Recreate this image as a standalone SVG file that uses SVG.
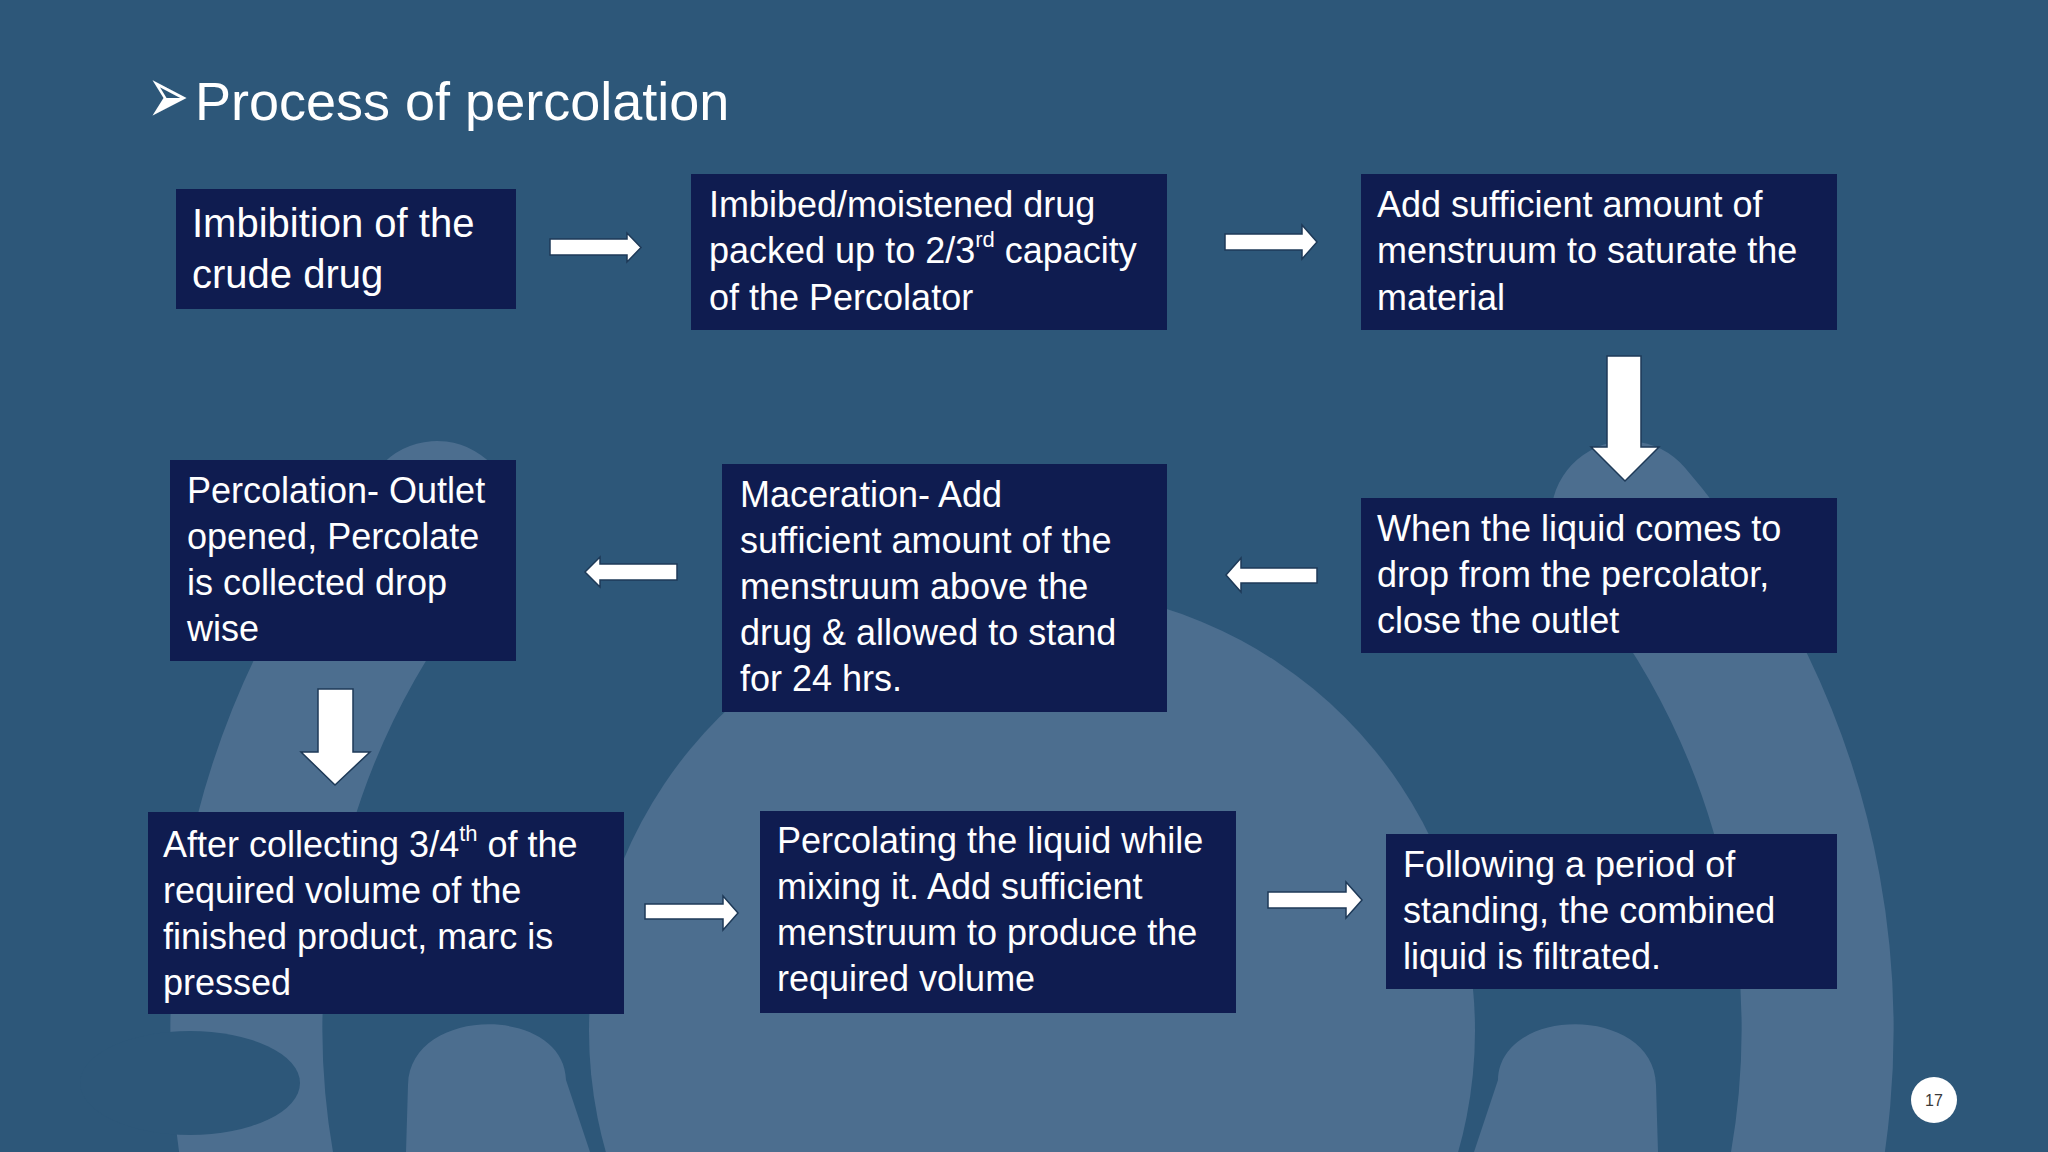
<svg xmlns="http://www.w3.org/2000/svg" width="2048" height="1152" viewBox="0 0 2048 1152">
<defs>
<style>
.bg{fill:#2D5779}
.lt{fill:#4C6E8F}
.box{fill:#0F1C50}
.t{font-family:"Liberation Sans",Arial,sans-serif;font-size:36px;fill:#FFFFFF}
.t1{font-family:"Liberation Sans",Arial,sans-serif;font-size:40px;fill:#FFFFFF}
.sup{font-size:22px}
.arr{fill:#FFFFFF;stroke:#1E3A58;stroke-width:1.5;stroke-linejoin:miter}
</style>
</defs>
<g id="background">
<rect class="bg" x="0" y="0" width="2048" height="1152"/>
<path d="M437 517 A785 785 0 0 0 294 1299" fill="none" stroke="#4C6E8F" stroke-width="152" stroke-linecap="round"/>
<path d="M1627 517 A785 785 0 0 1 1770 1299" fill="none" stroke="#4C6E8F" stroke-width="152" stroke-linecap="round"/>
<circle class="lt" cx="1032" cy="1031" r="443"/>
<path class="lt" d="M406 1152 L408 1085 C410 1005 564 1005 566 1080 L590 1152 Z"/>
<path class="lt" d="M1658 1152 L1656 1085 C1654 1005 1500 1005 1498 1080 L1474 1152 Z"/>
<ellipse class="bg" cx="190" cy="1083" rx="110" ry="52"/>
</g>
<g id="title">
<g transform="translate(0,123) scale(1,1.6)">
<text x="147" y="0" font-family="DejaVu Sans,sans-serif" font-size="50" fill="#FFFFFF">➢</text>
</g>
<text x="195" y="120" font-family="Liberation Sans,Arial,sans-serif" font-size="54" fill="#FFFFFF">Process of percolation</text>
</g>
<g id="connectors">
<polygon id="a1" class="arr" points="550,239 627,239 627,233 641,247.5 627,262 627,255 550,255"/>
<polygon id="a2" class="arr" points="1225,234 1302,234 1302,225 1317,242 1302,259 1302,250 1225,250"/>
<polygon id="a3" class="arr" points="1607,356 1641,356 1641,447 1659,447 1625,481 1591,447 1607,447"/>
<polygon id="a4" class="arr" points="1317,568 1241,568 1241,558 1226,575 1241,592 1241,583 1317,583"/>
<polygon id="a5" class="arr" points="677,564 600,564 600,557 585,572 600,587 600,580 677,580"/>
<polygon id="a6" class="arr" points="318,689 353,689 353,752 370,752 335,785 301,752 318,752"/>
<polygon id="a7" class="arr" points="645,904 723,904 723,896 738,913 723,930 723,919 645,919"/>
<polygon id="a8" class="arr" points="1268,892 1346,892 1346,882 1362,900 1346,918 1346,908 1268,908"/>
</g>
<g id="node1">
<rect class="box" x="176" y="189" width="340" height="120"/>
<text class="t1" x="192"><tspan x="192" y="237">Imbibition of the</tspan><tspan x="192" y="288">crude drug</tspan></text>
</g>
<g id="node2">
<rect class="box" x="691" y="174" width="476" height="156"/>
<text class="t"><tspan x="709" y="217">Imbibed/moistened drug</tspan><tspan x="709" y="263">packed up to 2/3</tspan><tspan class="sup" dy="-16">rd</tspan><tspan dy="16">  capacity</tspan><tspan x="709" y="310">of the Percolator</tspan></text>
</g>
<g id="node3">
<rect class="box" x="1361" y="174" width="476" height="156"/>
<text class="t"><tspan x="1377" y="217">Add sufficient amount of</tspan><tspan x="1377" y="263">menstruum to saturate the</tspan><tspan x="1377" y="310">material</tspan></text>
</g>
<g id="node4">
<rect class="box" x="1361" y="498" width="476" height="155"/>
<text class="t"><tspan x="1377" y="541">When the liquid comes to</tspan><tspan x="1377" y="587">drop from the percolator,</tspan><tspan x="1377" y="633">close the outlet</tspan></text>
</g>
<g id="node5">
<rect class="box" x="722" y="464" width="445" height="248"/>
<text class="t"><tspan x="740" y="507">Maceration- Add</tspan><tspan x="740" y="553">sufficient amount of the</tspan><tspan x="740" y="599">menstruum above the</tspan><tspan x="740" y="645">drug &amp; allowed to stand</tspan><tspan x="740" y="691">for 24 hrs.</tspan></text>
</g>
<g id="node6">
<rect class="box" x="170" y="460" width="346" height="201"/>
<text class="t"><tspan x="187" y="503">Percolation- Outlet</tspan><tspan x="187" y="549">opened, Percolate</tspan><tspan x="187" y="595">is collected drop</tspan><tspan x="187" y="641">wise</tspan></text>
</g>
<g id="node7">
<rect class="box" x="148" y="812" width="476" height="202"/>
<text class="t"><tspan x="163" y="857">After collecting 3/4</tspan><tspan class="sup" dy="-16">th</tspan><tspan dy="16"> of the</tspan><tspan x="163" y="903">required volume of the</tspan><tspan x="163" y="949">finished product, marc is</tspan><tspan x="163" y="995">pressed</tspan></text>
</g>
<g id="node8">
<rect class="box" x="760" y="811" width="476" height="202"/>
<text class="t"><tspan x="777" y="853">Percolating the liquid while</tspan><tspan x="777" y="899">mixing it. Add sufficient</tspan><tspan x="777" y="945">menstruum to produce the</tspan><tspan x="777" y="991">required volume</tspan></text>
</g>
<g id="node9">
<rect class="box" x="1386" y="834" width="451" height="155"/>
<text class="t"><tspan x="1403" y="877">Following a period of</tspan><tspan x="1403" y="923">standing, the combined</tspan><tspan x="1403" y="969">liquid is filtrated.</tspan></text>
</g>
<g id="page-number">
<circle cx="1934" cy="1100" r="23" fill="#FFFFFF"/>
<text x="1934" y="1106" text-anchor="middle" font-family="Liberation Sans,Arial,sans-serif" font-size="16" fill="#3A3A3A">17</text>
</g>
</svg>
